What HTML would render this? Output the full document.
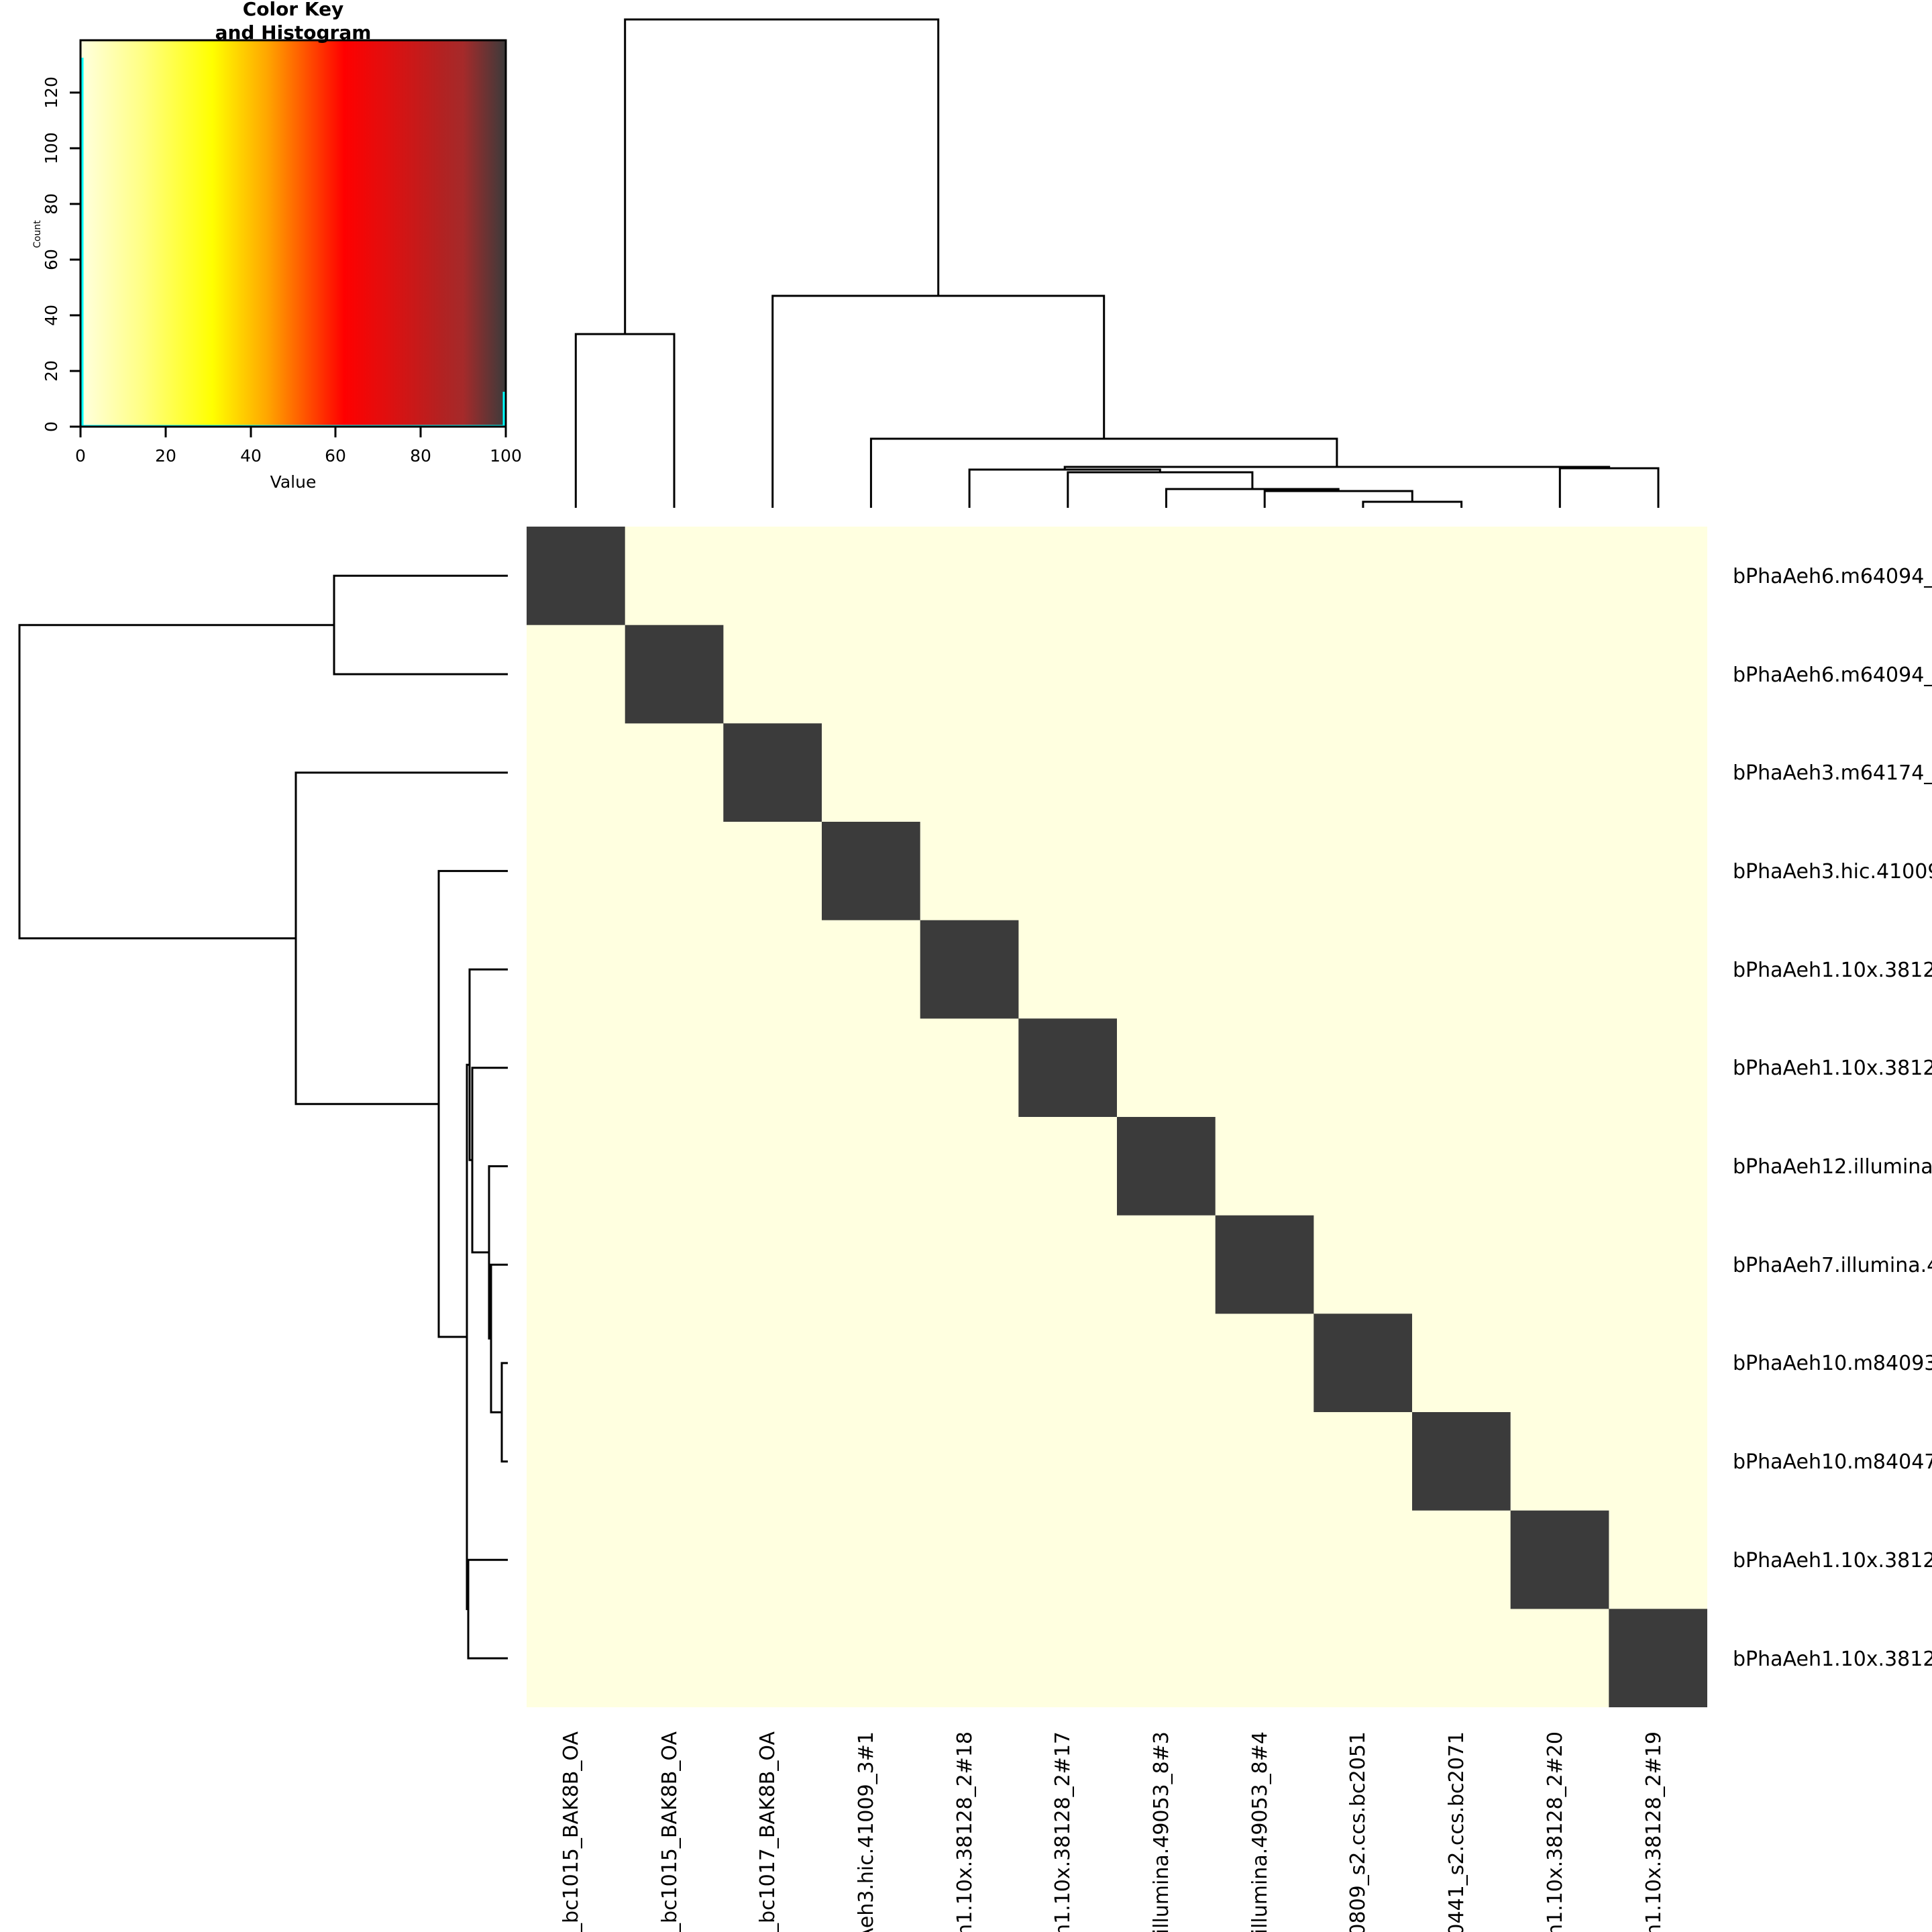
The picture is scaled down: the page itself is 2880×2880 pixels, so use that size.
<!DOCTYPE html>
<html><head><meta charset="utf-8"><style>
html,body{margin:0;padding:0;background:#fff;width:2880px;height:2880px;overflow:hidden;}
svg{display:block;}
text{font-family:"DejaVu Sans","Liberation Sans",sans-serif;}
</style></head><body>
<svg width="2880" height="2880" viewBox="0 0 2880 2880" xmlns="http://www.w3.org/2000/svg">
<defs>
<linearGradient id="g" x1="0" x2="1" y1="0" y2="0">
<stop offset="0" stop-color="#FFFFE0"/>
<stop offset="0.15" stop-color="#FFFF80"/>
<stop offset="0.31" stop-color="#FFFF00"/>
<stop offset="0.44" stop-color="#FFA500"/>
<stop offset="0.62" stop-color="#FF0000"/>
<stop offset="0.72" stop-color="#E00F0F"/>
<stop offset="0.85" stop-color="#B22222"/>
<stop offset="0.9" stop-color="#A52A2A"/>
<stop offset="1" stop-color="#3B3B3B"/>
</linearGradient>
</defs>
<rect x="120" y="60" width="634" height="576" fill="url(#g)"/>
<rect x="120" y="60" width="634" height="576" fill="none" stroke="#000" stroke-width="3"/>
<path d="M123 636 V86 M121 635 H752 M751 636 V584" stroke="#00FFFF" stroke-width="3" fill="none"/>
<text x="437" y="23" font-size="28" font-weight="bold" text-anchor="middle">Color Key</text>
<text x="437" y="58" font-size="28" font-weight="bold" text-anchor="middle">and Histogram</text>
<g stroke="#000" stroke-width="3">
<line x1="120" y1="636" x2="120" y2="138"/>
<line x1="120" y1="636" x2="104" y2="636"/><line x1="120" y1="553" x2="104" y2="553"/>
<line x1="120" y1="470" x2="104" y2="470"/><line x1="120" y1="387" x2="104" y2="387"/>
<line x1="120" y1="304" x2="104" y2="304"/><line x1="120" y1="221" x2="104" y2="221"/>
<line x1="120" y1="138" x2="104" y2="138"/>
<line x1="120" y1="636" x2="754" y2="636"/>
<line x1="120" y1="636" x2="120" y2="652"/><line x1="247" y1="636" x2="247" y2="652"/>
<line x1="374" y1="636" x2="374" y2="652"/><line x1="500" y1="636" x2="500" y2="652"/>
<line x1="627" y1="636" x2="627" y2="652"/><line x1="754" y1="636" x2="754" y2="652"/>
</g>
<g font-size="25" text-anchor="middle">
<text transform="translate(85,636) rotate(-90)">0</text>
<text transform="translate(85,553) rotate(-90)">20</text>
<text transform="translate(85,470) rotate(-90)">40</text>
<text transform="translate(85,387) rotate(-90)">60</text>
<text transform="translate(85,304) rotate(-90)">80</text>
<text transform="translate(85,221) rotate(-90)">100</text>
<text transform="translate(85,138) rotate(-90)">120</text>
<text x="120" y="688">0</text><text x="247" y="688">20</text><text x="374" y="688">40</text>
<text x="500" y="688">60</text><text x="627" y="688">80</text><text x="754" y="688">100</text>
<text x="437" y="727">Value</text>
<text transform="translate(60,349) rotate(-90)" font-size="14">Count</text>
</g>
<rect x="785" y="785" width="1760" height="1760" fill="#FFFFE0"/>
<g fill="#3B3B3B">
<rect x="785" y="785" width="146.7" height="146.7"/>
<rect x="931.7" y="931.7" width="146.7" height="146.7"/>
<rect x="1078.3" y="1078.3" width="146.7" height="146.7"/>
<rect x="1225" y="1225" width="146.7" height="146.7"/>
<rect x="1371.7" y="1371.7" width="146.7" height="146.7"/>
<rect x="1518.3" y="1518.3" width="146.7" height="146.7"/>
<rect x="1665" y="1665" width="146.7" height="146.7"/>
<rect x="1811.7" y="1811.7" width="146.7" height="146.7"/>
<rect x="1958.3" y="1958.3" width="146.7" height="146.7"/>
<rect x="2105" y="2105" width="146.7" height="146.7"/>
<rect x="2251.7" y="2251.7" width="146.7" height="146.7"/>
<rect x="2398.3" y="2398.3" width="146.7" height="146.7"/>
</g>
<g id="dend" stroke="#000" stroke-width="3" fill="none">
<path d="M2031.9 757 V748 H2178.6 V757"/>
<path d="M1885.2 757 V732 H2105.25 V748"/>
<path d="M1738.5 757 V729 H1995.2 V732"/>
<path d="M1591.8 757 V704 H1866.9 V729"/>
<path d="M1445.1 757 V700 H1729.3 V704"/>
<path d="M2325.3 757 V698 H2472 V757"/>
<path d="M1587.2 700 V696 H2398.65 V698"/>
<path d="M1298.4 757 V654 H1992.9 V696"/>
<path d="M1151.7 757 V441 H1645.7 V654"/>
<path d="M858.3 757 V498 H1005 V757"/>
<path d="M931.7 498 V29 H1398.7 V441"/>
</g>
<use href="#dend" transform="matrix(0 1 1 0 0 0)"/>
<g font-size="30">
<text x="2583" y="869">bPhaAeh6.m64094_200209_bc1015_BAK8B_OA</text>
<text x="2583" y="1016">bPhaAeh6.m64094_200211_bc1015_BAK8B_OA</text>
<text x="2583" y="1162">bPhaAeh3.m64174_200302_bc1017_BAK8B_OA</text>
<text x="2583" y="1309">bPhaAeh3.hic.41009_3#1</text>
<text x="2583" y="1456">bPhaAeh1.10x.38128_2#18</text>
<text x="2583" y="1602">bPhaAeh1.10x.38128_2#17</text>
<text x="2583" y="1749">bPhaAeh12.illumina.49053_8#3</text>
<text x="2583" y="1896">bPhaAeh7.illumina.49053_8#4</text>
<text x="2583" y="2042">bPhaAeh10.m84093_240809_s2.ccs.bc2051</text>
<text x="2583" y="2189">bPhaAeh10.m84047_240441_s2.ccs.bc2071</text>
<text x="2583" y="2336">bPhaAeh1.10x.38128_2#20</text>
<text x="2583" y="2483">bPhaAeh1.10x.38128_2#19</text>
</g>
<g font-size="30" text-anchor="end">
<text transform="translate(861,2581) rotate(-90)">bPhaAeh6.m64094_200209_bc1015_BAK8B_OA</text>
<text transform="translate(1008,2581) rotate(-90)">bPhaAeh6.m64094_200211_bc1015_BAK8B_OA</text>
<text transform="translate(1154,2581) rotate(-90)">bPhaAeh3.m64174_200302_bc1017_BAK8B_OA</text>
<text transform="translate(1301,2581) rotate(-90)">bPhaAeh3.hic.41009_3#1</text>
<text transform="translate(1448,2581) rotate(-90)">bPhaAeh1.10x.38128_2#18</text>
<text transform="translate(1594,2581) rotate(-90)">bPhaAeh1.10x.38128_2#17</text>
<text transform="translate(1741,2581) rotate(-90)">bPhaAeh12.illumina.49053_8#3</text>
<text transform="translate(1888,2581) rotate(-90)">bPhaAeh7.illumina.49053_8#4</text>
<text transform="translate(2034,2581) rotate(-90)">bPhaAeh10.m84093_240809_s2.ccs.bc2051</text>
<text transform="translate(2181,2581) rotate(-90)">bPhaAeh10.m84047_240441_s2.ccs.bc2071</text>
<text transform="translate(2328,2581) rotate(-90)">bPhaAeh1.10x.38128_2#20</text>
<text transform="translate(2475,2581) rotate(-90)">bPhaAeh1.10x.38128_2#19</text>
</g>
</svg>
</body></html>
